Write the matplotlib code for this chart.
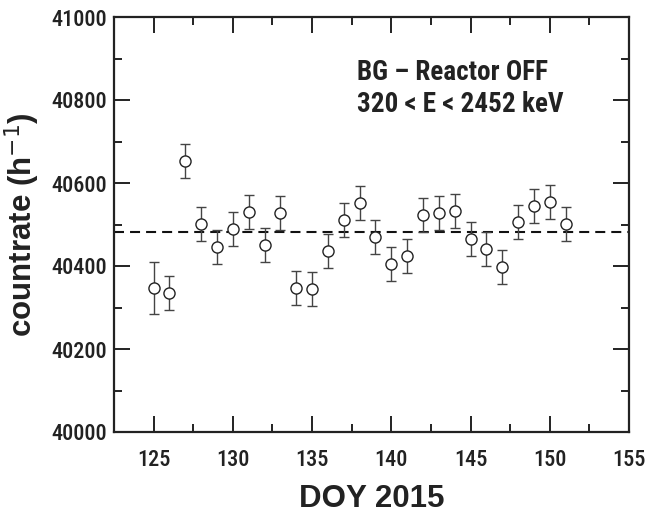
import os
import numpy as np
import matplotlib
matplotlib.use("Agg")
from matplotlib import pyplot as plt
from matplotlib import font_manager as fm
from matplotlib.ticker import MultipleLocator

# day of year and count rate (h^-1)
doy = [125, 126, 127, 128, 129, 130, 131, 132, 133, 134, 135, 136, 137, 138,
       139, 140, 141, 142, 143, 144, 145, 146, 147, 148, 149, 150, 151]
rate = [40347, 40335, 40653, 40501, 40445, 40489, 40530, 40450, 40527, 40347,
        40345, 40437, 40510, 40552, 40470, 40405, 40424, 40522, 40527, 40533,
        40464, 40441, 40398, 40507, 40545, 40554, 40502]
err = [62, 40, 41, 41, 41, 41, 41, 41, 41, 41, 41, 41, 41, 41,
       41, 41, 41, 41, 41, 41, 41, 41, 41, 41, 41, 41, 41]
mean_rate = 40483
note_lines = ["BG \u2013 Reactor OFF", "320 < E < 2452 keV"]


def fprop(fname, size, family, weight):
    for f in fm.findSystemFonts():
        if os.path.basename(f) == fname:
            return fm.FontProperties(fname=f, size=size)
    return fm.FontProperties(family=family, weight=weight, size=size)


tick_fp = fprop("RobotoCondensed-Medium.ttf", 16, "Roboto Condensed", "medium")
label_fp = fprop("LiberationSans-Bold.ttf", 22.5, "Liberation Sans", "bold")
note_fp = fprop("RobotoCondensed-Bold.ttf", 19.5, "Roboto Condensed", "bold")

plt.rcParams["mathtext.fontset"] = "custom"
plt.rcParams["mathtext.rm"] = "Liberation Sans:bold"
plt.rcParams["mathtext.it"] = "Liberation Sans:bold"
plt.rcParams["mathtext.bf"] = "Liberation Sans:bold"
plt.rcParams["mathtext.default"] = "rm"

ink = "#222222"
fig = plt.figure(figsize=(6.47, 5.14), dpi=100)
ax = fig.add_axes([114 / 647, 1 - 432 / 514, (629 - 114) / 647, (432 - 17) / 514])

ax.axhline(mean_rate, color="#111111", lw=1.5, ls=(0, (4.8, 2.9)), zorder=1)
ax.errorbar(doy, rate, yerr=err, fmt="o", mfc="white", mec=ink, mew=1.0,
            ms=8, ecolor="#444444", elinewidth=1.0, capsize=3.5, capthick=1.0,
            zorder=2)

ax.xaxis.set_major_locator(MultipleLocator(5))
ax.xaxis.set_minor_locator(MultipleLocator(2.5))
ax.yaxis.set_major_locator(MultipleLocator(200))
ax.yaxis.set_minor_locator(MultipleLocator(100))
ax.set_xlim(122.5, 155)
ax.set_ylim(40000, 41000)
ax.tick_params(which="both", direction="in", top=True, right=True, width=1.4,
               colors=ink)
ax.tick_params(which="major", length=11.5)
ax.tick_params(which="minor", length=6)
ax.tick_params(axis="x", pad=12)
ax.tick_params(axis="y", pad=5)
for lab in ax.get_xticklabels() + ax.get_yticklabels():
    lab.set_fontproperties(tick_fp)
for s in ax.spines.values():
    s.set_linewidth(1.6)
    s.set_color(ink)

ax.set_xlabel("DOY 2015", fontproperties=label_fp, color=ink)
ax.set_ylabel("countrate (h$^{-1}$)", fontproperties=label_fp, color=ink)
ax.xaxis.set_label_coords(0.5, -0.125)
ax.yaxis.set_label_coords(-0.14, 0.5)

ax.text(137.85, 40848, note_lines[0], fontproperties=note_fp, va="baseline", color=ink)
ax.text(137.85, 40771, note_lines[1], fontproperties=note_fp, va="baseline", color=ink)

fig.savefig("out.png", dpi=100)
